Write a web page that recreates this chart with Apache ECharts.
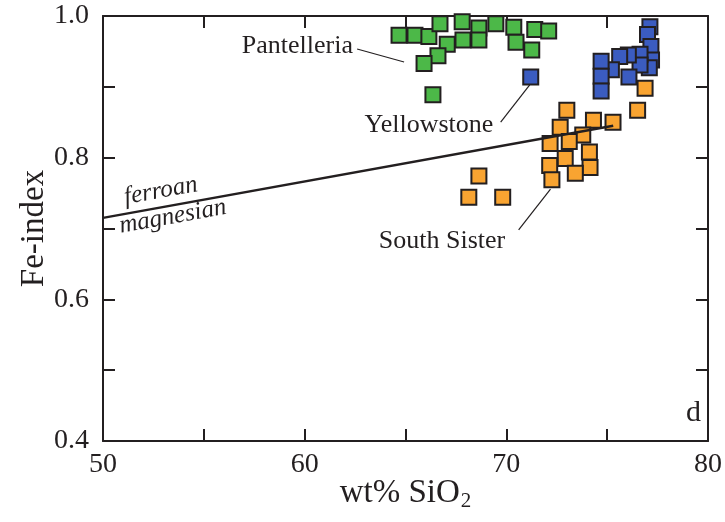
<!DOCTYPE html>
<html>
<head>
<meta charset="utf-8">
<script src="https://cdn.jsdelivr.net/npm/echarts@6/dist/echarts.min.js"></script>
<style>
  html, body { margin: 0; padding: 0; background: #fff; }
  #chart { width: 725px; height: 522px; }
</style>
</head>
<body>
<div id="chart"></div>
<script>
// wt% SiO2, Fe-index
const pantelleria = [
  [64.68, 0.973], [65.47, 0.973], [66.16, 0.971], [66.71, 0.989], [67.07, 0.960],
  [66.61, 0.944], [65.92, 0.933], [67.81, 0.992], [67.85, 0.966], [68.64, 0.983],
  [68.64, 0.966], [69.48, 0.989], [70.37, 0.984], [70.48, 0.963], [71.41, 0.981],
  [72.10, 0.979], [71.26, 0.952], [66.36, 0.889]
];
const yellowstone = [
  [77.12, 0.985], [77.00, 0.974], [77.17, 0.957], [77.20, 0.938], [77.09, 0.927],
  [76.63, 0.946], [76.63, 0.931], [76.05, 0.945], [75.62, 0.943], [75.21, 0.924],
  [74.70, 0.936], [74.70, 0.915], [74.70, 0.894], [76.08, 0.914], [71.21, 0.914]
];
const southSister = [
  [76.88, 0.898], [76.51, 0.867], [73.00, 0.867], [72.67, 0.843], [74.32, 0.853],
  [75.29, 0.850], [73.79, 0.832], [72.17, 0.820], [73.12, 0.823], [74.12, 0.808],
  [72.92, 0.799], [72.15, 0.789], [74.15, 0.786], [73.42, 0.778], [72.26, 0.769],
  [68.64, 0.774], [68.14, 0.744], [69.82, 0.744]
];
// ferroan / magnesian boundary
const boundary = [[50, 0.715], [75.3, 0.845]];

// labels and leader lines, in data coords
const groupLabels = [
  { text: 'Pantelleria', at: [59.64, 0.9576], leader: [[62.6, 0.9534], [64.93, 0.935]] },
  { text: 'Yellowstone', at: [66.16, 0.846], leader: [[69.72, 0.8503], [71.16, 0.9026]] },
  { text: 'South Sister', at: [66.81, 0.6823], leader: [[70.61, 0.6979], [72.19, 0.7557]] }
];
const fieldLabels = [
  { text: 'ferroan', at: [52.87, 0.7529] },
  { text: 'magnesian', at: [53.46, 0.7166] }
];

const FONT = '"Liberation Serif", "DejaVu Serif", serif';
const INK = '#231f20';

const chart = echarts.init(document.getElementById('chart'));

const squares = (name, data, color) => {
  return {
    name: name,
    type: 'scatter',
    symbol: 'rect',
    symbolSize: 15,
    data: data,
    itemStyle: { color: color, borderColor: INK, borderWidth: 2, opacity: 1 },
    z: 3
  };
};

const axisCommon = {
  axisLine: { lineStyle: { color: INK, width: 2 } },
  axisTick: { inside: true, length: 12, lineStyle: { color: INK, width: 2 } },
  splitLine: { show: false }
};

chart.setOption({
  animation: false,
  grid: { left: 103, top: 16, right: 15, bottom: 81 },
  xAxis: [
    Object.assign({
      type: 'value', min: 50, max: 80, interval: 5,
      name: '{a|wt% SiO}{s|2}',
      nameLocation: 'middle', nameGap: 34, nameMoveOverlap: false,
      nameTextStyle: {
        rich: {
          a: { fontFamily: FONT, fontSize: 33, color: INK },
          s: { fontFamily: FONT, fontSize: 21, color: INK, padding: [16, 0, 0, 1] }
        }
      },
      axisLabel: {
        margin: 10, fontFamily: FONT, fontSize: 28, color: INK,
        formatter: v => (v % 10 === 0 ? String(v) : '')
      }
    }, axisCommon),
    Object.assign({
      type: 'value', min: 50, max: 80, interval: 5, position: 'top',
      axisLabel: { show: false }
    }, axisCommon)
  ],
  yAxis: [
    Object.assign({
      type: 'value', min: 0.4, max: 1.0, interval: 0.1,
      name: 'Fe-index',
      nameLocation: 'middle', nameGap: 52, nameMoveOverlap: false,
      nameTextStyle: { fontFamily: FONT, fontSize: 33, color: INK },
      axisLabel: {
        margin: 14, fontFamily: FONT, fontSize: 28, color: INK,
        formatter: v => (Math.round(v * 10) % 2 === 0 ? v.toFixed(1) : '')
      }
    }, axisCommon),
    Object.assign({
      type: 'value', min: 0.4, max: 1.0, interval: 0.1, position: 'right',
      axisLabel: { show: false }
    }, axisCommon)
  ],
  series: [
    squares('Pantelleria', pantelleria, '#4cb848'),
    squares('Yellowstone', yellowstone, '#3b5cc0'),
    squares('South Sister', southSister, '#f9a431'),
    {
      type: 'line', data: boundary, symbol: 'none', silent: true,
      lineStyle: { color: INK, width: 2.5 }, z: 4
    }
  ].concat(groupLabels.map(g => ({
    type: 'line', data: g.leader, symbol: 'none', silent: true,
    lineStyle: { color: INK, width: 1.2 }, z: 4
  })))
});

// text annotations placed from data coordinates
const angle = (() => {
  const p0 = chart.convertToPixel({ gridIndex: 0 }, boundary[0]);
  const p1 = chart.convertToPixel({ gridIndex: 0 }, boundary[1]);
  return Math.atan2(p0[1] - p1[1], p1[0] - p0[0]);
})();

const graphics = groupLabels.map(g => {
  const p = chart.convertToPixel({ gridIndex: 0 }, g.at);
  return {
    type: 'text', x: p[0], y: p[1], z: 10,
    style: { text: g.text, font: '26px ' + FONT, fill: INK, align: 'center', verticalAlign: 'middle' }
  };
}).concat(fieldLabels.map(f => {
  const p = chart.convertToPixel({ gridIndex: 0 }, f.at);
  return {
    type: 'text', x: p[0], y: p[1], rotation: angle, z: 10,
    style: { text: f.text, font: 'italic 25px ' + FONT, fill: INK, align: 'center', verticalAlign: 'middle' }
  };
}));

// panel letter
graphics.push({
  type: 'text', right: 24, top: 398, z: 10,
  style: { text: 'd', font: '30px ' + FONT, fill: INK }
});

chart.setOption({ graphic: graphics });
</script>
</body>
</html>
